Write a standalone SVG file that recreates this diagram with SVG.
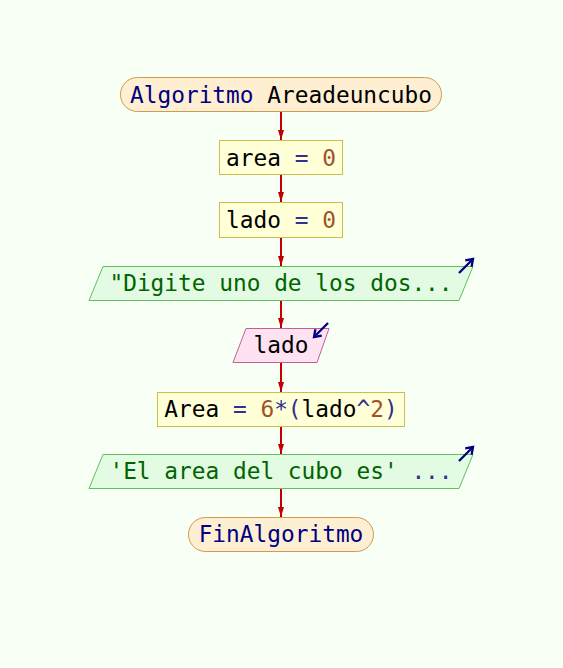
<svg xmlns="http://www.w3.org/2000/svg" width="563" height="668" viewBox="0 0 563 668">
  <defs>
    <marker id="ah" viewBox="0 0 10 6" refX="10" refY="3" markerWidth="10" markerHeight="6" markerUnits="userSpaceOnUse" orient="auto">
      <path d="M0,0 L10,3 L0,6 Z" fill="#c00000"/>
    </marker>
    <marker id="io" viewBox="0 0 10 10" refX="8.5" refY="5" markerWidth="10" markerHeight="10" markerUnits="userSpaceOnUse" orient="auto" overflow="visible">
      <path d="M2,0.5 L8.5,5 L2,9.5" fill="none" stroke="#000080" stroke-width="2.3"/>
    </marker>
  </defs>
  <style>
    text { font-family: "DejaVu Sans Mono", "Liberation Mono", monospace; font-size: 22.8px; text-anchor: middle; dominant-baseline: central; }
    .term { fill: #ffefd2; stroke: #d09a50; stroke-width: 1; }
    .proc { fill: #ffffd8; stroke: #c8c048; stroke-width: 1; }
    .out { fill: #e2fbe2; stroke: #60c060; stroke-width: 1; }
    .in { fill: #ffe2f2; stroke: #c06090; stroke-width: 1; }
    .kw { fill: #000080; }
    .id { fill: #000000; }
    .op { fill: #303090; }
    .num { fill: #a0522d; }
    .str { fill: #006400; }
    .edge { stroke: #c00000; stroke-width: 2; fill: none; marker-end: url(#ah); }
    .io { stroke: #000080; stroke-width: 2.3; fill: none; marker-end: url(#io); }
  </style>
  <rect width="563" height="668" fill="#f8fff4"/>

  <g id="connectors">
    <line class="edge" x1="281" y1="112" x2="281" y2="140"/>
    <line class="edge" x1="281" y1="175" x2="281" y2="202"/>
    <line class="edge" x1="281" y1="238" x2="281" y2="266"/>
    <line class="edge" x1="281" y1="300" x2="281" y2="328"/>
    <line class="edge" x1="281" y1="363" x2="281" y2="392"/>
    <line class="edge" x1="281" y1="426" x2="281" y2="454"/>
    <line class="edge" x1="281" y1="489" x2="281" y2="517"/>
  </g>

  <g id="start">
    <rect class="term" x="120.5" y="77.5" width="321" height="34" rx="17"/>
    <text x="281" y="95"><tspan class="kw">Algoritmo</tspan> <tspan class="id">Areadeuncubo</tspan></text>
  </g>

  <g id="area-init">
    <rect class="proc" x="219.5" y="140.5" width="123" height="34"/>
    <text x="281" y="158"><tspan class="id">area</tspan> <tspan class="op">=</tspan> <tspan class="num">0</tspan></text>
  </g>

  <g id="lado-init">
    <rect class="proc" x="219.5" y="202.5" width="123" height="35"/>
    <text x="281" y="220"><tspan class="id">lado</tspan> <tspan class="op">=</tspan> <tspan class="num">0</tspan></text>
  </g>

  <g id="prompt">
    <polygon class="out" points="103,266.5 473,266.5 459,300.5 89,300.5"/>
    <text x="281" y="283"><tspan class="str">"Digite uno de los dos...</tspan></text>
    <line class="io" x1="459" y1="273" x2="473" y2="259"/>
  </g>

  <g id="read-lado">
    <polygon class="in" points="246,328.5 329,328.5 317,362.5 233,362.5"/>
    <text x="281" y="345"><tspan class="id">lado</tspan></text>
    <line class="io" x1="328" y1="323" x2="314" y2="337"/>
  </g>

  <g id="area-calc">
    <rect class="proc" x="157.5" y="392.5" width="247" height="34"/>
    <text x="281" y="409"><tspan class="id">Area</tspan> <tspan class="op">=</tspan> <tspan class="num">6</tspan><tspan class="op">*(</tspan><tspan class="id">lado</tspan><tspan class="op">^</tspan><tspan class="num">2</tspan><tspan class="op">)</tspan></text>
  </g>

  <g id="result">
    <polygon class="out" points="103,454.5 473,454.5 459,488.5 89,488.5"/>
    <text x="281" y="471"><tspan class="str">'El area del cubo es'</tspan> <tspan class="op">...</tspan></text>
    <line class="io" x1="459" y1="461" x2="473" y2="447"/>
  </g>

  <g id="end">
    <rect class="term" x="188.5" y="517.5" width="185" height="34" rx="17"/>
    <text x="281" y="534"><tspan class="kw">FinAlgoritmo</tspan></text>
  </g>
</svg>
